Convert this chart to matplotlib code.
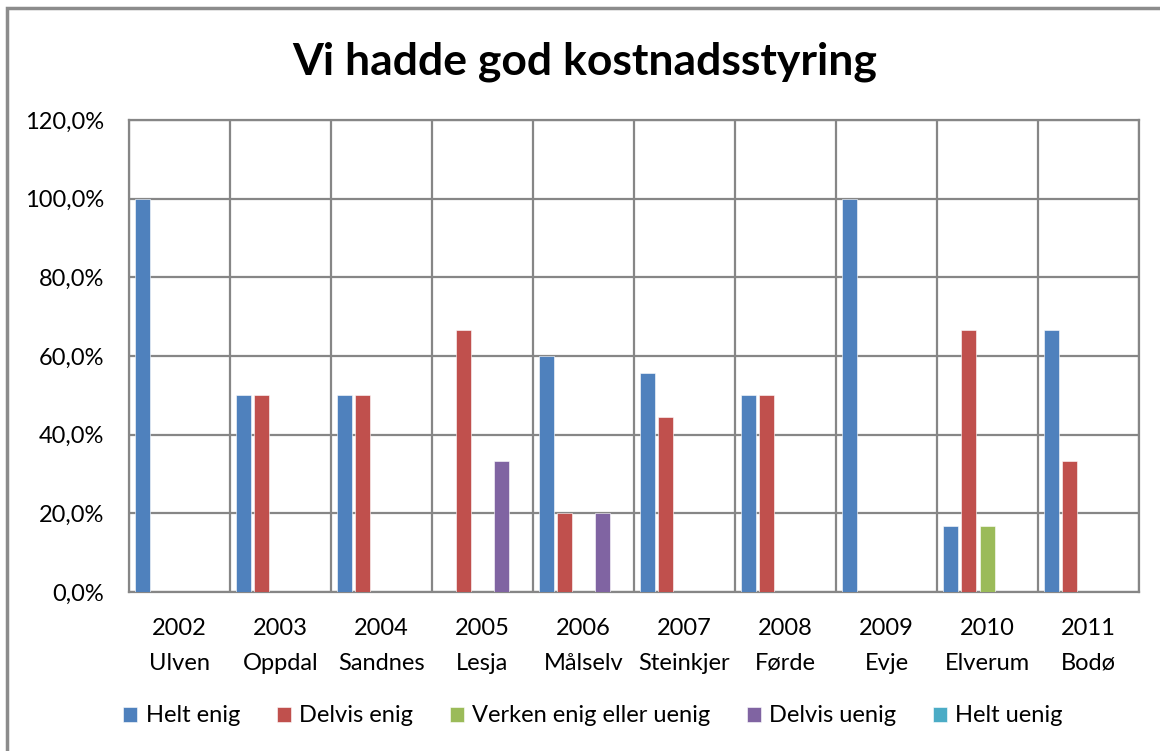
import matplotlib
matplotlib.use("Agg")
import matplotlib.pyplot as plt
import numpy as np
from matplotlib.patches import Rectangle
from matplotlib.ticker import FuncFormatter

plt.rcParams['font.family'] = ['Lato', 'DejaVu Sans']

title = "Vi hadde god kostnadsstyring"
years = ["2002", "2003", "2004", "2005", "2006", "2007", "2008", "2009", "2010", "2011"]
places = ["Ulven", "Oppdal", "Sandnes", "Lesja", "Målselv", "Steinkjer", "Førde", "Evje", "Elverum", "Bodø"]
series_names = ["Helt enig", "Delvis enig", "Verken enig eller uenig", "Delvis uenig", "Helt uenig"]
helt_enig = [100.0, 50.0, 50.0, 0.0, 60.0, 55.6, 50.0, 100.0, 16.7, 66.7]
delvis_enig = [0.0, 50.0, 50.0, 66.7, 20.0, 44.4, 50.0, 0.0, 66.7, 33.3]
verken = [0.0, 0.0, 0.0, 0.0, 0.0, 0.0, 0.0, 0.0, 16.7, 0.0]
delvis_uenig = [0.0, 0.0, 0.0, 33.3, 20.0, 0.0, 0.0, 0.0, 0.0, 0.0]
helt_uenig = [0.0, 0.0, 0.0, 0.0, 0.0, 0.0, 0.0, 0.0, 0.0, 0.0]
colors = ["#4F81BD", "#C0504D", "#9BBB59", "#8064A2", "#4BACC6"]
yticks = [0, 20, 40, 60, 80, 100, 120]

W, H = 1160, 751
fig = plt.figure(figsize=(W / 100, H / 100), dpi=100)
fig.patch.set_facecolor("white")

# outer frame (only top and left visible in reference)
fig.patches.append(Rectangle((7 / W, -0.1), 1.2, 1 - 8 / H + 0.1, transform=fig.transFigure,
                             fill=False, edgecolor="#8c8c8c", linewidth=2.5, zorder=0))

left, right, top, bottom = 129, 1139, 120, 592
ax = fig.add_axes([left / W, 1 - bottom / H, (right - left) / W, (bottom - top) / H])

data = [helt_enig, delvis_enig, verken, delvis_uenig, helt_uenig]
x = np.arange(len(years))
pitch = 0.185
bw = 0.15
for i, (vals, name, c) in enumerate(zip(data, series_names, colors)):
    ax.bar(x + (i - 2) * pitch, vals, width=bw, color=c, label=name, zorder=3,
           edgecolor="white", linewidth=0.4)

ax.set_xlim(-0.5, len(years) - 0.5)
ax.set_ylim(0, 120)
ax.set_yticks(yticks)
ax.yaxis.set_major_formatter(FuncFormatter(lambda v, p: f"{v:.1f}%".replace(".", ",")))
ax.set_xticks(x)
ax.set_xticklabels([f"{y}\n{p}" for y, p in zip(years, places)], linespacing=1.8)
ax.set_xticks(np.arange(-0.5, len(years), 1.0), minor=True)
ax.grid(True, axis="y", color="#868686", linewidth=1.6, zorder=0)
ax.grid(True, axis="x", which="minor", color="#868686", linewidth=1.6, zorder=0)
ax.tick_params(axis="both", which="both", length=0, labelsize=17, colors="black")
ax.tick_params(axis="x", pad=19)
ax.tick_params(axis="y", pad=18)
for s in ax.spines.values():
    s.set_color("#868686")
    s.set_linewidth(1.6)

fig.text(0.5 + 5 / W, 1 - 62 / H, title, ha="center", va="center", fontsize=32, fontweight="bold")

handles, labels = ax.get_legend_handles_labels()
leg = fig.legend(handles, labels, loc="center", bbox_to_anchor=(593 / W, 1 - 716 / H), ncol=5,
                 frameon=False, fontsize=17, handlelength=0.6, handleheight=0.6,
                 handletextpad=0.35, columnspacing=1.55)

fig.savefig("out.png", dpi=100, facecolor="white")
